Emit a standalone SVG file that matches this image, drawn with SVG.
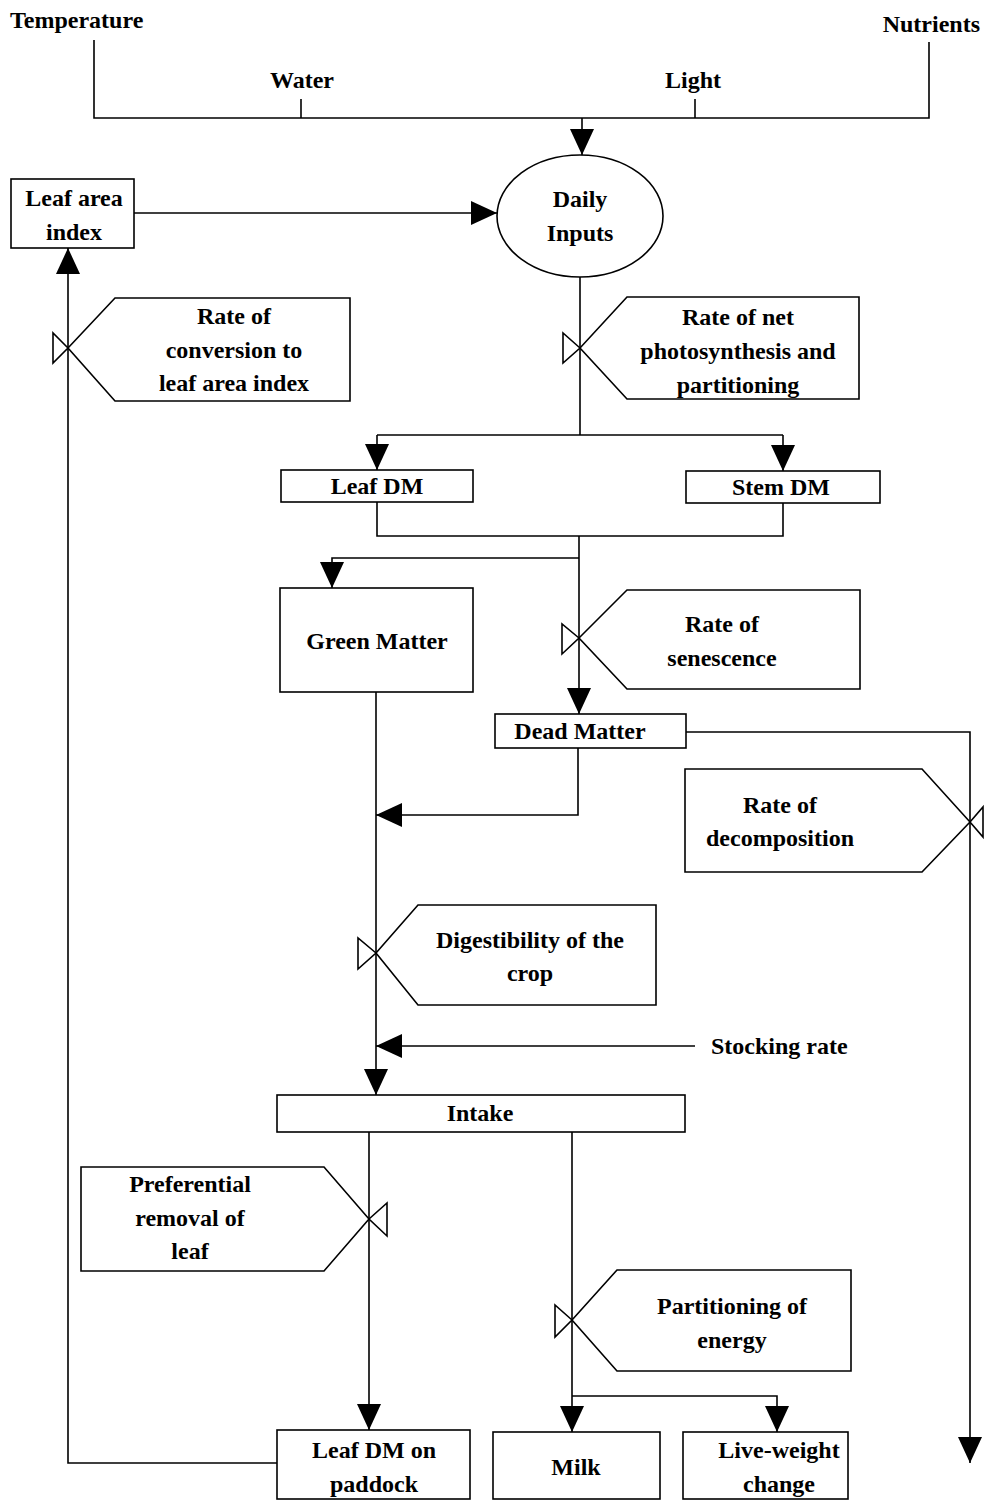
<svg xmlns="http://www.w3.org/2000/svg" width="984" height="1501" viewBox="0 0 984 1501">
<style>
text{font-family:"Liberation Serif","Times New Roman",serif;font-weight:bold;font-size:24px;fill:#000;text-anchor:middle}
.n{fill:#fff;stroke:#000;stroke-width:1.6}
.c{fill:none;stroke:#000;stroke-width:1.6}
.a{marker-end:url(#ah)}
</style>
<defs>
<marker id="ah" markerUnits="userSpaceOnUse" markerWidth="26" markerHeight="24" refX="26" refY="12" orient="auto" overflow="visible">
<path d="M0,0 L26,12 L0,24 Z" fill="#000"/>
</marker>
</defs>
<rect width="984" height="1501" fill="#fff"/>
<g id="connectors">
<path class="c" d="M94,40 V118 H929 V42"/>
<path class="c" d="M301,99 V118"/>
<path class="c" d="M695,99 V118"/>
<path class="c a" d="M582,118 V155"/>
<path class="c a" d="M134,213 H497"/>
<path class="c" d="M580,277 V435"/>
<path class="c" d="M377,435 H783"/>
<path class="c a" d="M377,435 V470"/>
<path class="c a" d="M783,435 V471"/>
<path class="c" d="M377,502 V536 H783 V503"/>
<path class="c a" d="M579,536 V714"/>
<path class="c a" d="M579,558 H332 V588"/>
<path class="c a" d="M376,692 V1095"/>
<path class="c a" d="M578,748 V815 H376"/>
<path class="c a" d="M686,732 H970 V1463"/>
<path class="c a" d="M695,1046 H376"/>
<path class="c a" d="M369,1132 V1430"/>
<path class="c a" d="M572,1132 V1432"/>
<path class="c a" d="M572,1396 H777 V1432"/>
<path class="c a" d="M277,1463 H68 V248"/>
</g>
<g id="temperature"><text x="10" y="28" style="text-anchor:start">Temperature</text></g>
<g id="nutrients"><text x="980" y="32" style="text-anchor:end">Nutrients</text></g>
<g id="water"><text x="302" y="88">Water</text></g>
<g id="light"><text x="693" y="88">Light</text></g>
<g id="daily-inputs">
<ellipse class="n" cx="580" cy="216" rx="83" ry="61"/>
<text x="580" y="207">Daily</text><text x="580" y="241">Inputs</text>
</g>
<g id="leaf-area-index">
<rect class="n" x="11" y="179" width="123" height="69"/>
<text x="74" y="206">Leaf area</text><text x="74" y="240">index</text>
</g>
<g id="valve-lai">
<polygon class="n" points="68,348 53,333 53,363"/>
<polygon class="n" points="68,348 115,298 350,298 350,401 115,401"/>
<text x="234" y="324">Rate of</text><text x="234" y="358">conversion to</text><text x="234" y="391">leaf area index</text>
</g>
<g id="valve-photosynthesis">
<polygon class="n" points="580,348 563,333 563,363"/>
<polygon class="n" points="580,348 627,297 859,297 859,399 627,399"/>
<text x="738" y="325">Rate of net</text><text x="738" y="359">photosynthesis and</text><text x="738" y="393">partitioning</text>
</g>
<g id="leaf-dm">
<rect class="n" x="281" y="470" width="192" height="32"/>
<text x="377" y="494">Leaf DM</text>
</g>
<g id="stem-dm">
<rect class="n" x="686" y="471" width="194" height="32"/>
<text x="781" y="495">Stem DM</text>
</g>
<g id="green-matter">
<rect class="n" x="280" y="588" width="193" height="104"/>
<text x="377" y="649">Green Matter</text>
</g>
<g id="valve-senescence">
<polygon class="n" points="579,638 562,624 562,654"/>
<polygon class="n" points="579,638 627,590 860,590 860,689 627,689"/>
<text x="722" y="632">Rate of</text><text x="722" y="666">senescence</text>
</g>
<g id="dead-matter">
<rect class="n" x="495" y="714" width="191" height="34"/>
<text x="580" y="739">Dead Matter</text>
</g>
<g id="valve-decomposition">
<polygon class="n" points="970,822 983,807 983,837"/>
<polygon class="n" points="970,822 922,769 685,769 685,872 922,872"/>
<text x="780" y="813">Rate of</text><text x="780" y="846">decomposition</text>
</g>
<g id="valve-digestibility">
<polygon class="n" points="376,953 358,938 358,969"/>
<polygon class="n" points="376,953 418,905 656,905 656,1005 418,1005"/>
<text x="530" y="948">Digestibility of the</text><text x="530" y="981">crop</text>
</g>
<g id="stocking-rate"><text x="711" y="1054" style="text-anchor:start">Stocking rate</text></g>
<g id="intake">
<rect class="n" x="277" y="1095" width="408" height="37"/>
<text x="480" y="1121">Intake</text>
</g>
<g id="valve-preferential">
<polygon class="n" points="369,1219 387,1203 387,1236"/>
<polygon class="n" points="369,1219 324,1167 81,1167 81,1271 324,1271"/>
<text x="190" y="1192">Preferential</text><text x="190" y="1226">removal of</text><text x="190" y="1259">leaf</text>
</g>
<g id="valve-partitioning">
<polygon class="n" points="572,1320 555,1305 555,1337"/>
<polygon class="n" points="572,1320 617,1270 851,1270 851,1371 617,1371"/>
<text x="732" y="1314">Partitioning of</text><text x="732" y="1348">energy</text>
</g>
<g id="leaf-dm-paddock">
<rect class="n" x="277" y="1430" width="193" height="69"/>
<text x="374" y="1458">Leaf DM on</text><text x="374" y="1492">paddock</text>
</g>
<g id="milk">
<rect class="n" x="493" y="1432" width="167" height="67"/>
<text x="576" y="1475">Milk</text>
</g>
<g id="live-weight">
<rect class="n" x="683" y="1432" width="165" height="67"/>
<text x="779" y="1458">Live-weight</text><text x="779" y="1492">change</text>
</g>
</svg>
